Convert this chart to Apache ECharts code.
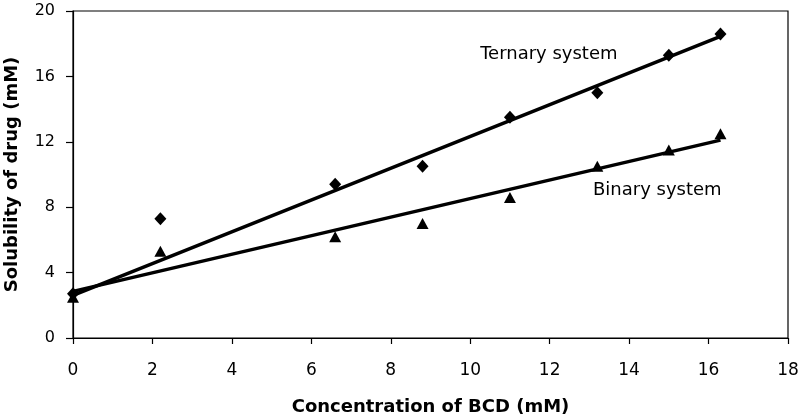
<!DOCTYPE html>
<html>
<head>
<meta charset="utf-8">
<script src="https://cdn.jsdelivr.net/npm/echarts@6/dist/echarts.min.js"></script>
<style>html,body{margin:0;padding:0;background:#fff;}#c{width:799px;height:417px;}</style>
</head>
<body>
<div id="c"></div>
<script>
// Data
const bcdConc = [0, 2.2, 6.6, 8.8, 11, 13.2, 15, 16.3];
const ternary = [2.7, 7.3, 9.4, 10.5, 13.5, 15.0, 17.3, 18.6];
const binary  = [2.5, 5.3, 6.2, 7.0, 8.6, 10.5, 11.5, 12.5];
const ternaryFit = [[0, 2.6], [16.3, 18.45]];
const binaryFit  = [[0, 2.85], [16.3, 12.1]];
const annotations = [
  { text: 'Ternary system', x: 10.25, y: 17.35 },
  { text: 'Binary system', x: 13.09, y: 9.03 }
];
const xTitle = 'Concentration of BCD (mM)';
const yTitle = 'Solubility of drug (mM)';

const FONT = 'DejaVu Sans';
const chart = echarts.init(document.getElementById('c'), null, { renderer: 'canvas' });
const zip = (xs, ys) => xs.map((x, i) => [x, ys[i]]);

chart.setOption({
  animation: false,
  backgroundColor: '#fff',
  grid: { left: 73, right: 11, top: 11, bottom: 79, containLabel: false, outerBoundsMode: 'none', show: true, borderColor: '#000', borderWidth: 1.2, backgroundColor: 'transparent' },
  xAxis: {
    type: 'value', min: 0, max: 18, interval: 2,
    name: xTitle, nameLocation: 'middle', nameGap: 60,
    nameTextStyle: { fontFamily: FONT, fontWeight: 'bold', fontSize: 18, color: '#000' },
    axisLine: { onZero: false, lineStyle: { color: '#000', width: 1.2 } },
    axisTick: { show: true, length: 6, lineStyle: { color: '#000', width: 1.2 } },
    axisLabel: { fontFamily: FONT, fontSize: 17, color: '#000', margin: 24 },
    splitLine: { show: false }
  },
  yAxis: {
    type: 'value', min: 0, max: 20, interval: 4,
    name: yTitle, nameLocation: 'middle', nameGap: 52, nameRotate: 90,
    nameTextStyle: { fontFamily: FONT, fontWeight: 'bold', fontSize: 18, color: '#000' },
    axisLine: { onZero: false, lineStyle: { color: '#000', width: 1.2 } },
    axisTick: { show: true, length: 7, lineStyle: { color: '#000', width: 1.2 } },
    axisLabel: { fontFamily: FONT, fontSize: 16, color: '#000', margin: 18 },
    splitLine: { show: false }
  },
  series: [
    { type: 'line', data: ternaryFit, symbol: 'none', lineStyle: { color: '#000', width: 3.5 }, z: 2 },
    { type: 'line', data: binaryFit, symbol: 'none', lineStyle: { color: '#000', width: 3.5 }, z: 2 },
    { type: 'scatter', data: zip(bcdConc, ternary), symbol: 'diamond', symbolSize: [12, 13], itemStyle: { color: '#000', opacity: 1 }, z: 3 },
    { type: 'scatter', data: zip(bcdConc, binary), symbol: 'triangle', symbolSize: [12, 11], itemStyle: { color: '#000', opacity: 1 }, z: 3 },
    {
      type: 'scatter', symbolSize: 0, silent: true, itemStyle: { opacity: 1 },
      data: annotations.map(a => ({ value: [a.x, a.y], name: a.text })),
      label: { show: true, position: 'right', distance: 0, formatter: p => p.name, fontFamily: FONT, fontSize: 18, color: '#000', opacity: 1 }
    }
  ]
});
</script>
</body>
</html>
